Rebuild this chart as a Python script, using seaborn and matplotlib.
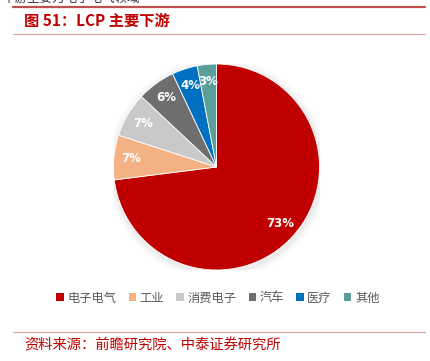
import matplotlib.pyplot as plt
import seaborn as sns
from matplotlib.patches import Circle
from matplotlib.lines import Line2D
from matplotlib.patches import Patch

categories = ["电子电气", "工业", "消费电子", "汽车", "医疗", "其他"]
shares = [73, 7, 7, 6, 4, 3]
colors = ["#C00000", "#F4B183", "#C9C9C9", "#6E6E6E", "#0070C0", "#5B9E9A"]

title = "图 51：LCP 主要下游"
source = "资料来源：前瞻研究院、中泰证券研究所"

sns.set_style("white")
plt.rcParams["font.family"] = ["Noto Sans CJK SC", "DejaVu Sans"]

fig = plt.figure(figsize=(4.3, 3.61), dpi=100)
W, H = 430, 361

# header / footer decorations
fig.add_artist(Line2D([13 / W, 425 / W], [1 - 7 / H, 1 - 7 / H], color="#C0504D", lw=1.6))
fig.add_artist(Line2D([13 / W, 425 / W], [1 - 34 / H, 1 - 34 / H], color="#D9A0A0", lw=0.8))
fig.add_artist(Line2D([13 / W, 425 / W], [1 - 332 / H, 1 - 332 / H], color="#D9A0A0", lw=0.8))
fig.text(2 / W, 1 + 2 / H, "下游主要为电子电气领域", fontsize=9, color="#333333", va="center")
fig.text(24 / W, 1 - 21 / H, title, fontsize=11, color="#C00000", fontweight="bold", va="center")
fig.text(24 / W, 1 - 346 / H, source, fontsize=10.3, color="#C00000", va="center")

# pie
cx, cy, r = 216.5, 167, 103
ax = fig.add_axes([(cx - r) / W, 1 - (cy + r) / H, 2 * r / W, 2 * r / H])
for k, a in enumerate([0.035, 0.025, 0.015]):
    ax.add_patch(Circle((0.01, -0.02), 1.0 + 0.025 * (k + 1), color="#000000", alpha=a, lw=0, zorder=0))
wedges, texts, autotexts = ax.pie(
    shares,
    colors=colors,
    startangle=90,
    counterclock=False,
    autopct="%d%%",
    pctdistance=0.83,
    wedgeprops=dict(edgecolor="white", linewidth=0.6),
    textprops=dict(color="white", fontsize=8.5, fontweight="bold", family="DejaVu Sans"),
)
ax.set_xlim(-1, 1)
ax.set_ylim(-1, 1)
ax.set_aspect("equal")
ax.axis("off")

handles = [Patch(facecolor=c, edgecolor="none") for c in colors]
fig.legend(
    handles,
    categories,
    loc="center",
    bbox_to_anchor=(218 / W, 1 - 298 / H),
    ncol=6,
    frameon=False,
    fontsize=8.8,
    handlelength=0.6,
    handleheight=0.6,
    handletextpad=0.3,
    columnspacing=1.0,
    labelcolor="#595959",
)

fig.savefig("out.png", dpi=100)
